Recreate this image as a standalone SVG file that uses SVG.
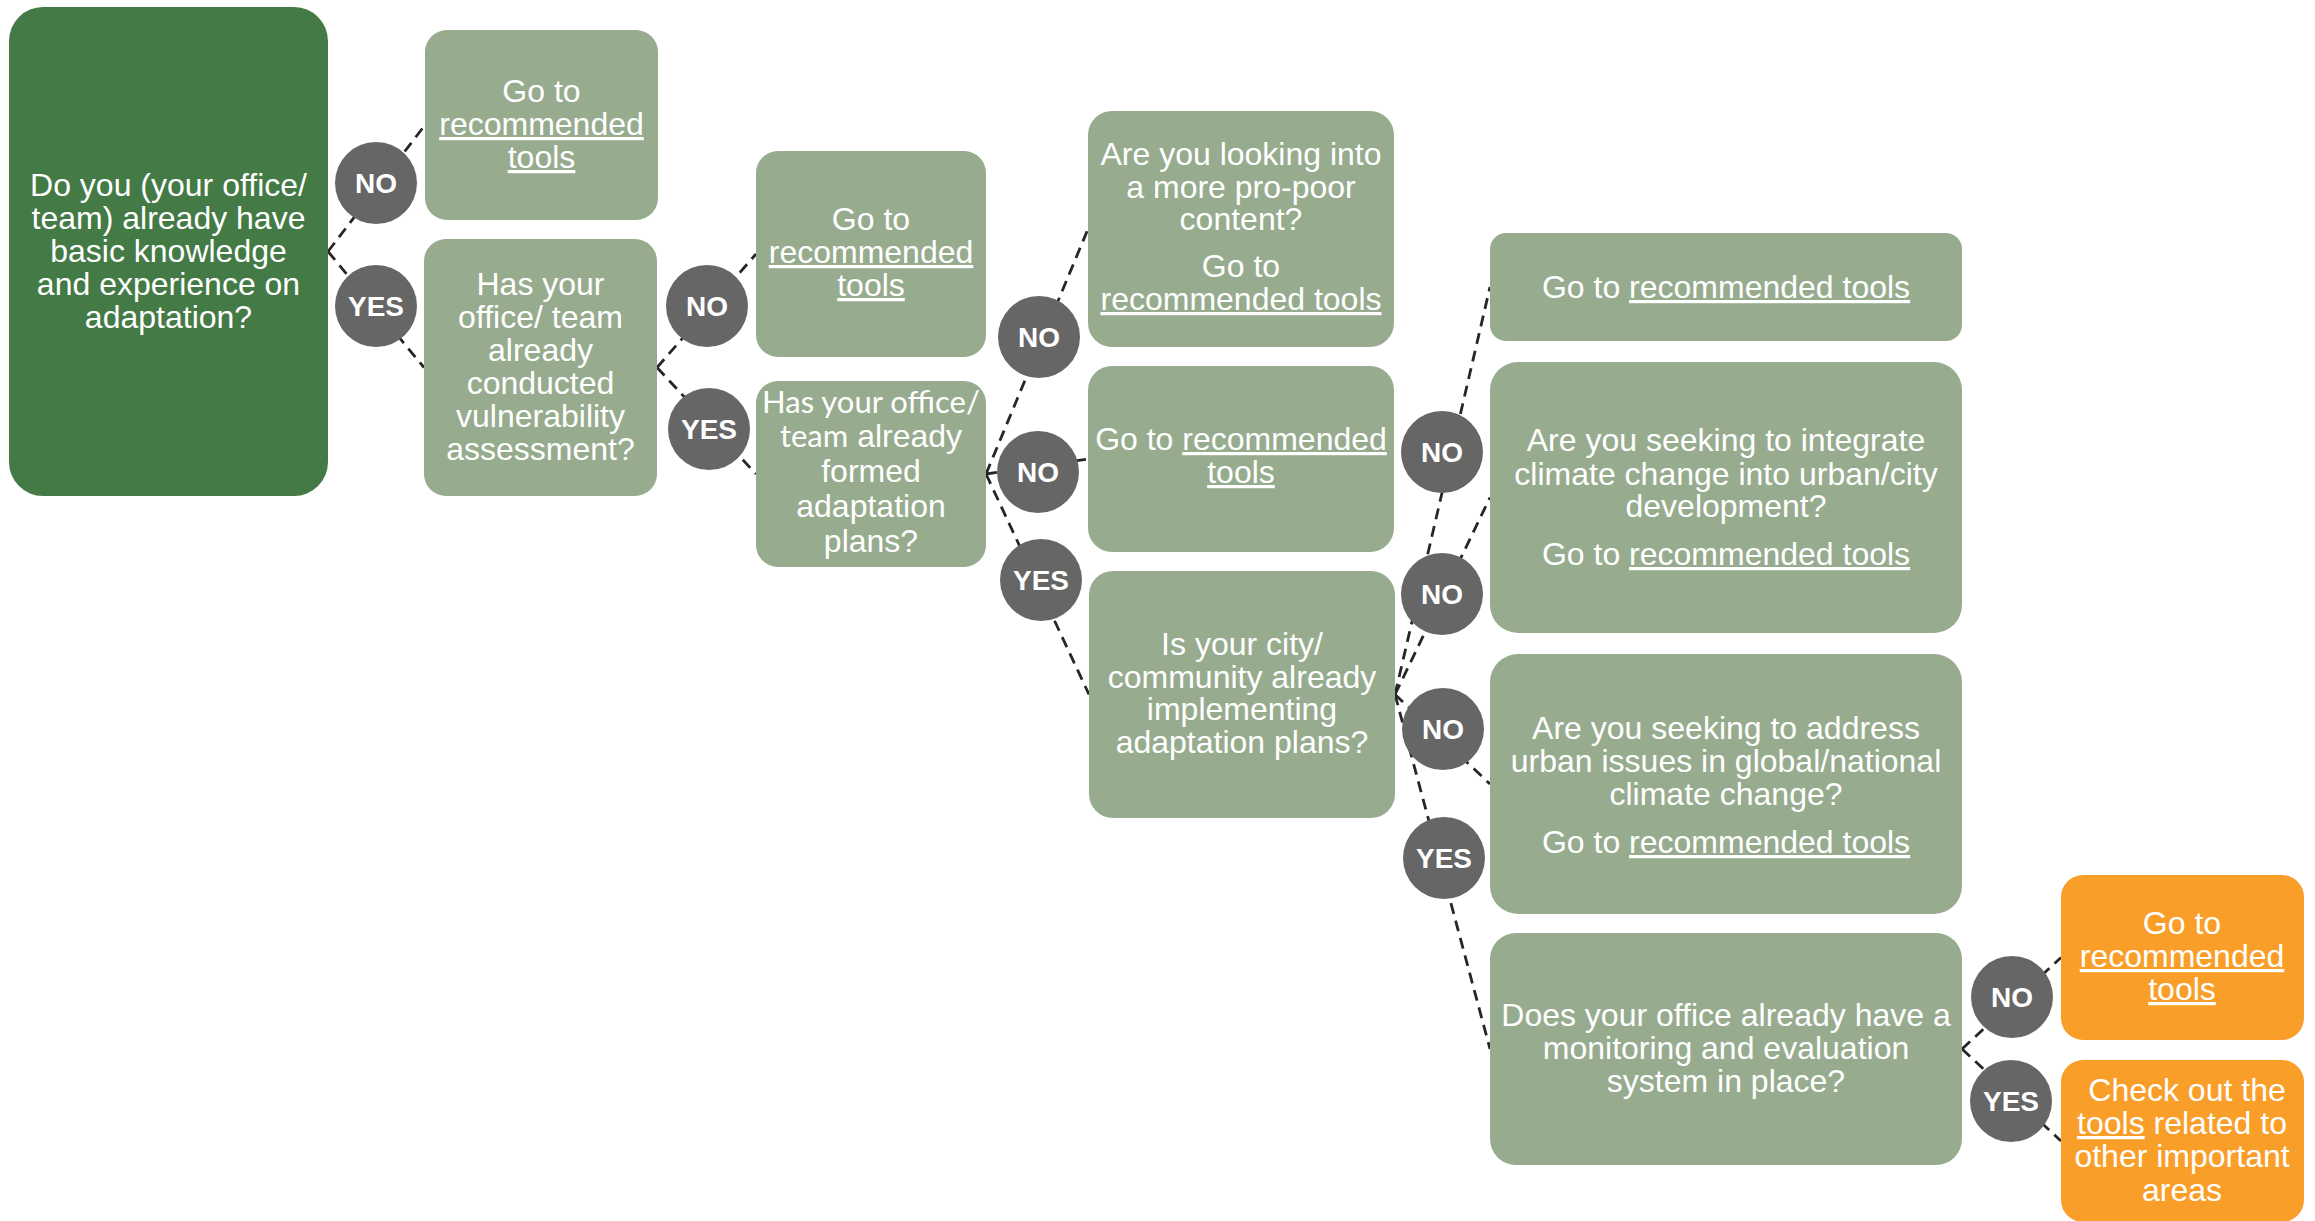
<svg xmlns="http://www.w3.org/2000/svg" width="2315" height="1221" viewBox="0 0 2315 1221">
<style>
.box{fill:#97AC8E}
.root{fill:#447A45}
.org{fill:#FA9E2A}
.t{font-family:"Liberation Sans",Arial,sans-serif;font-size:32px;fill:#FFFFFF;text-anchor:middle}
.c{font-family:Lato,"Liberation Sans",sans-serif;font-size:31px}
.u{text-decoration:underline}
.dot{fill:#666666}
.lbl{font-family:"Liberation Sans",Arial,sans-serif;font-size:28px;font-weight:bold;fill:#FFFFFF;text-anchor:middle}
.con{stroke:#262626;stroke-width:2.8;stroke-dasharray:11 7;fill:none}
</style>
<rect width="2315" height="1221" fill="#FFFFFF"/>
<g id="connectors">
<line class="con" x1="328" y1="251.5" x2="425" y2="125"/>
<line class="con" x1="328" y1="251.5" x2="424" y2="367.5"/>
<line class="con" x1="657" y1="367.5" x2="756" y2="254"/>
<line class="con" x1="657" y1="367.5" x2="756" y2="474"/>
<line class="con" x1="986" y1="474" x2="1088" y2="229"/>
<line class="con" x1="986" y1="474" x2="1088" y2="459"/>
<line class="con" x1="986" y1="474" x2="1089" y2="694.5"/>
<line class="con" x1="1395" y1="694.5" x2="1490" y2="287"/>
<line class="con" x1="1395" y1="694.5" x2="1490" y2="497.5"/>
<line class="con" x1="1395" y1="694.5" x2="1490" y2="784"/>
<line class="con" x1="1395" y1="694.5" x2="1490" y2="1049"/>
<line class="con" x1="1962" y1="1049" x2="2061" y2="957.5"/>
<line class="con" x1="1962" y1="1049" x2="2061" y2="1141"/>
</g>
<g id="n-root">
<rect class="root" x="9" y="7" width="319" height="489" rx="34"/>
<text class="t"><tspan x="168.5" y="196">Do you (your office/</tspan><tspan x="168.5" y="229">team) already have</tspan><tspan x="168.5" y="262">basic knowledge</tspan><tspan x="168.5" y="295">and experience on</tspan><tspan x="168.5" y="328">adaptation?</tspan></text>
</g>
<g id="n-tools1">
<rect class="box" x="425" y="30" width="233" height="190" rx="22"/>
<text class="t"><tspan x="541.5" y="102">Go to</tspan><tspan x="541.5" y="135" class="u">recommended</tspan><tspan x="541.5" y="168" class="u">tools</tspan></text>
</g>
<g id="n-vuln">
<rect class="box" x="424" y="239" width="233" height="257" rx="22"/>
<text class="t"><tspan x="540.5" y="295">Has your</tspan><tspan x="540.5" y="328">office/ team</tspan><tspan x="540.5" y="361">already</tspan><tspan x="540.5" y="394">conducted</tspan><tspan x="540.5" y="427">vulnerability</tspan><tspan x="540.5" y="460">assessment?</tspan></text>
</g>
<g id="n-tools2">
<rect class="box" x="756" y="151" width="230" height="206" rx="22"/>
<text class="t"><tspan x="871" y="230">Go to</tspan><tspan x="871" y="263" class="u">recommended</tspan><tspan x="871" y="296" class="u">tools</tspan></text>
</g>
<g id="n-formed">
<rect class="box" x="756" y="381" width="230" height="186" rx="22"/>
<text class="t"><tspan x="871" y="413" class="c">Has your office/</tspan><tspan x="871" y="447"><tspan class="c">team</tspan> already</tspan><tspan x="871" y="482">formed</tspan><tspan x="871" y="517">adaptation</tspan><tspan x="871" y="552">plans?</tspan></text>
</g>
<g id="n-propoor">
<rect class="box" x="1088" y="111" width="306" height="236" rx="24"/>
<text class="t"><tspan x="1241" y="165">Are you looking into</tspan><tspan x="1241" y="198">a more pro-poor</tspan><tspan x="1241" y="230">content?</tspan><tspan x="1241" y="277">Go to</tspan><tspan x="1241" y="310" class="u">recommended tools</tspan></text>
</g>
<g id="n-tools3">
<rect class="box" x="1088" y="366" width="306" height="186" rx="24"/>
<text class="t"><tspan x="1241" y="450">Go to <tspan class="u">recommended</tspan></tspan><tspan x="1241" y="483" class="u">tools</tspan></text>
</g>
<g id="n-implementing">
<rect class="box" x="1089" y="571" width="306" height="247" rx="24"/>
<text class="t"><tspan x="1242" y="655">Is your city/</tspan><tspan x="1242" y="688">community already</tspan><tspan x="1242" y="720">implementing</tspan><tspan x="1242" y="753">adaptation plans?</tspan></text>
</g>
<g id="n-tools4">
<rect class="box" x="1490" y="233" width="472" height="108" rx="16"/>
<text class="t"><tspan x="1726" y="298">Go to <tspan class="u">recommended tools</tspan></tspan></text>
</g>
<g id="n-integrate">
<rect class="box" x="1490" y="362" width="472" height="271" rx="28"/>
<text class="t"><tspan x="1726" y="451">Are you seeking to integrate</tspan><tspan x="1726" y="485">climate change into urban/city</tspan><tspan x="1726" y="517">development?</tspan><tspan x="1726" y="565">Go to <tspan class="u">recommended tools</tspan></tspan></text>
</g>
<g id="n-address">
<rect class="box" x="1490" y="654" width="472" height="260" rx="28"/>
<text class="t"><tspan x="1726" y="739">Are you seeking to address</tspan><tspan x="1726" y="772">urban issues in global/national</tspan><tspan x="1726" y="805">climate change?</tspan><tspan x="1726" y="853">Go to <tspan class="u">recommended tools</tspan></tspan></text>
</g>
<g id="n-monitoring">
<rect class="box" x="1490" y="933" width="472" height="232" rx="26"/>
<text class="t"><tspan x="1726" y="1026">Does your office already have a</tspan><tspan x="1726" y="1059">monitoring and evaluation</tspan><tspan x="1726" y="1092">system in place?</tspan></text>
</g>
<g id="n-tools5">
<rect class="org" x="2061" y="875" width="243" height="165" rx="22"/>
<text class="t"><tspan x="2182" y="934">Go to</tspan><tspan x="2182" y="967" class="u">recommended</tspan><tspan x="2182" y="1000" class="u">tools</tspan></text>
</g>
<g id="n-other">
<rect class="org" x="2061" y="1060" width="243" height="162" rx="22"/>
<text class="t"><tspan x="2187" y="1101">Check out the</tspan><tspan x="2182" y="1134"><tspan class="u">tools</tspan> related to</tspan><tspan x="2182" y="1167">other important</tspan><tspan x="2182" y="1201">areas</tspan></text>
</g>
<g id="b-no1"><circle class="dot" cx="376" cy="183" r="41"/><text class="lbl" x="376" y="193">NO</text></g>
<g id="b-yes1"><circle class="dot" cx="376" cy="306" r="41"/><text class="lbl" x="376" y="316">YES</text></g>
<g id="b-no2"><circle class="dot" cx="707" cy="306" r="41"/><text class="lbl" x="707" y="316">NO</text></g>
<g id="b-yes2"><circle class="dot" cx="709" cy="429" r="41"/><text class="lbl" x="709" y="439">YES</text></g>
<g id="b-no3"><circle class="dot" cx="1039" cy="337" r="41"/><text class="lbl" x="1039" y="347">NO</text></g>
<g id="b-no4"><circle class="dot" cx="1038" cy="472" r="41"/><text class="lbl" x="1038" y="482">NO</text></g>
<g id="b-yes3"><circle class="dot" cx="1041" cy="580" r="41"/><text class="lbl" x="1041" y="590">YES</text></g>
<g id="b-no5"><circle class="dot" cx="1442" cy="452" r="41"/><text class="lbl" x="1442" y="462">NO</text></g>
<g id="b-no6"><circle class="dot" cx="1442" cy="594" r="41"/><text class="lbl" x="1442" y="604">NO</text></g>
<g id="b-no7"><circle class="dot" cx="1443" cy="729" r="41"/><text class="lbl" x="1443" y="739">NO</text></g>
<g id="b-yes4"><circle class="dot" cx="1444" cy="858" r="41"/><text class="lbl" x="1444" y="868">YES</text></g>
<g id="b-no8"><circle class="dot" cx="2012" cy="997" r="41"/><text class="lbl" x="2012" y="1007">NO</text></g>
<g id="b-yes5"><circle class="dot" cx="2011" cy="1101" r="41"/><text class="lbl" x="2011" y="1111">YES</text></g>
</svg>
